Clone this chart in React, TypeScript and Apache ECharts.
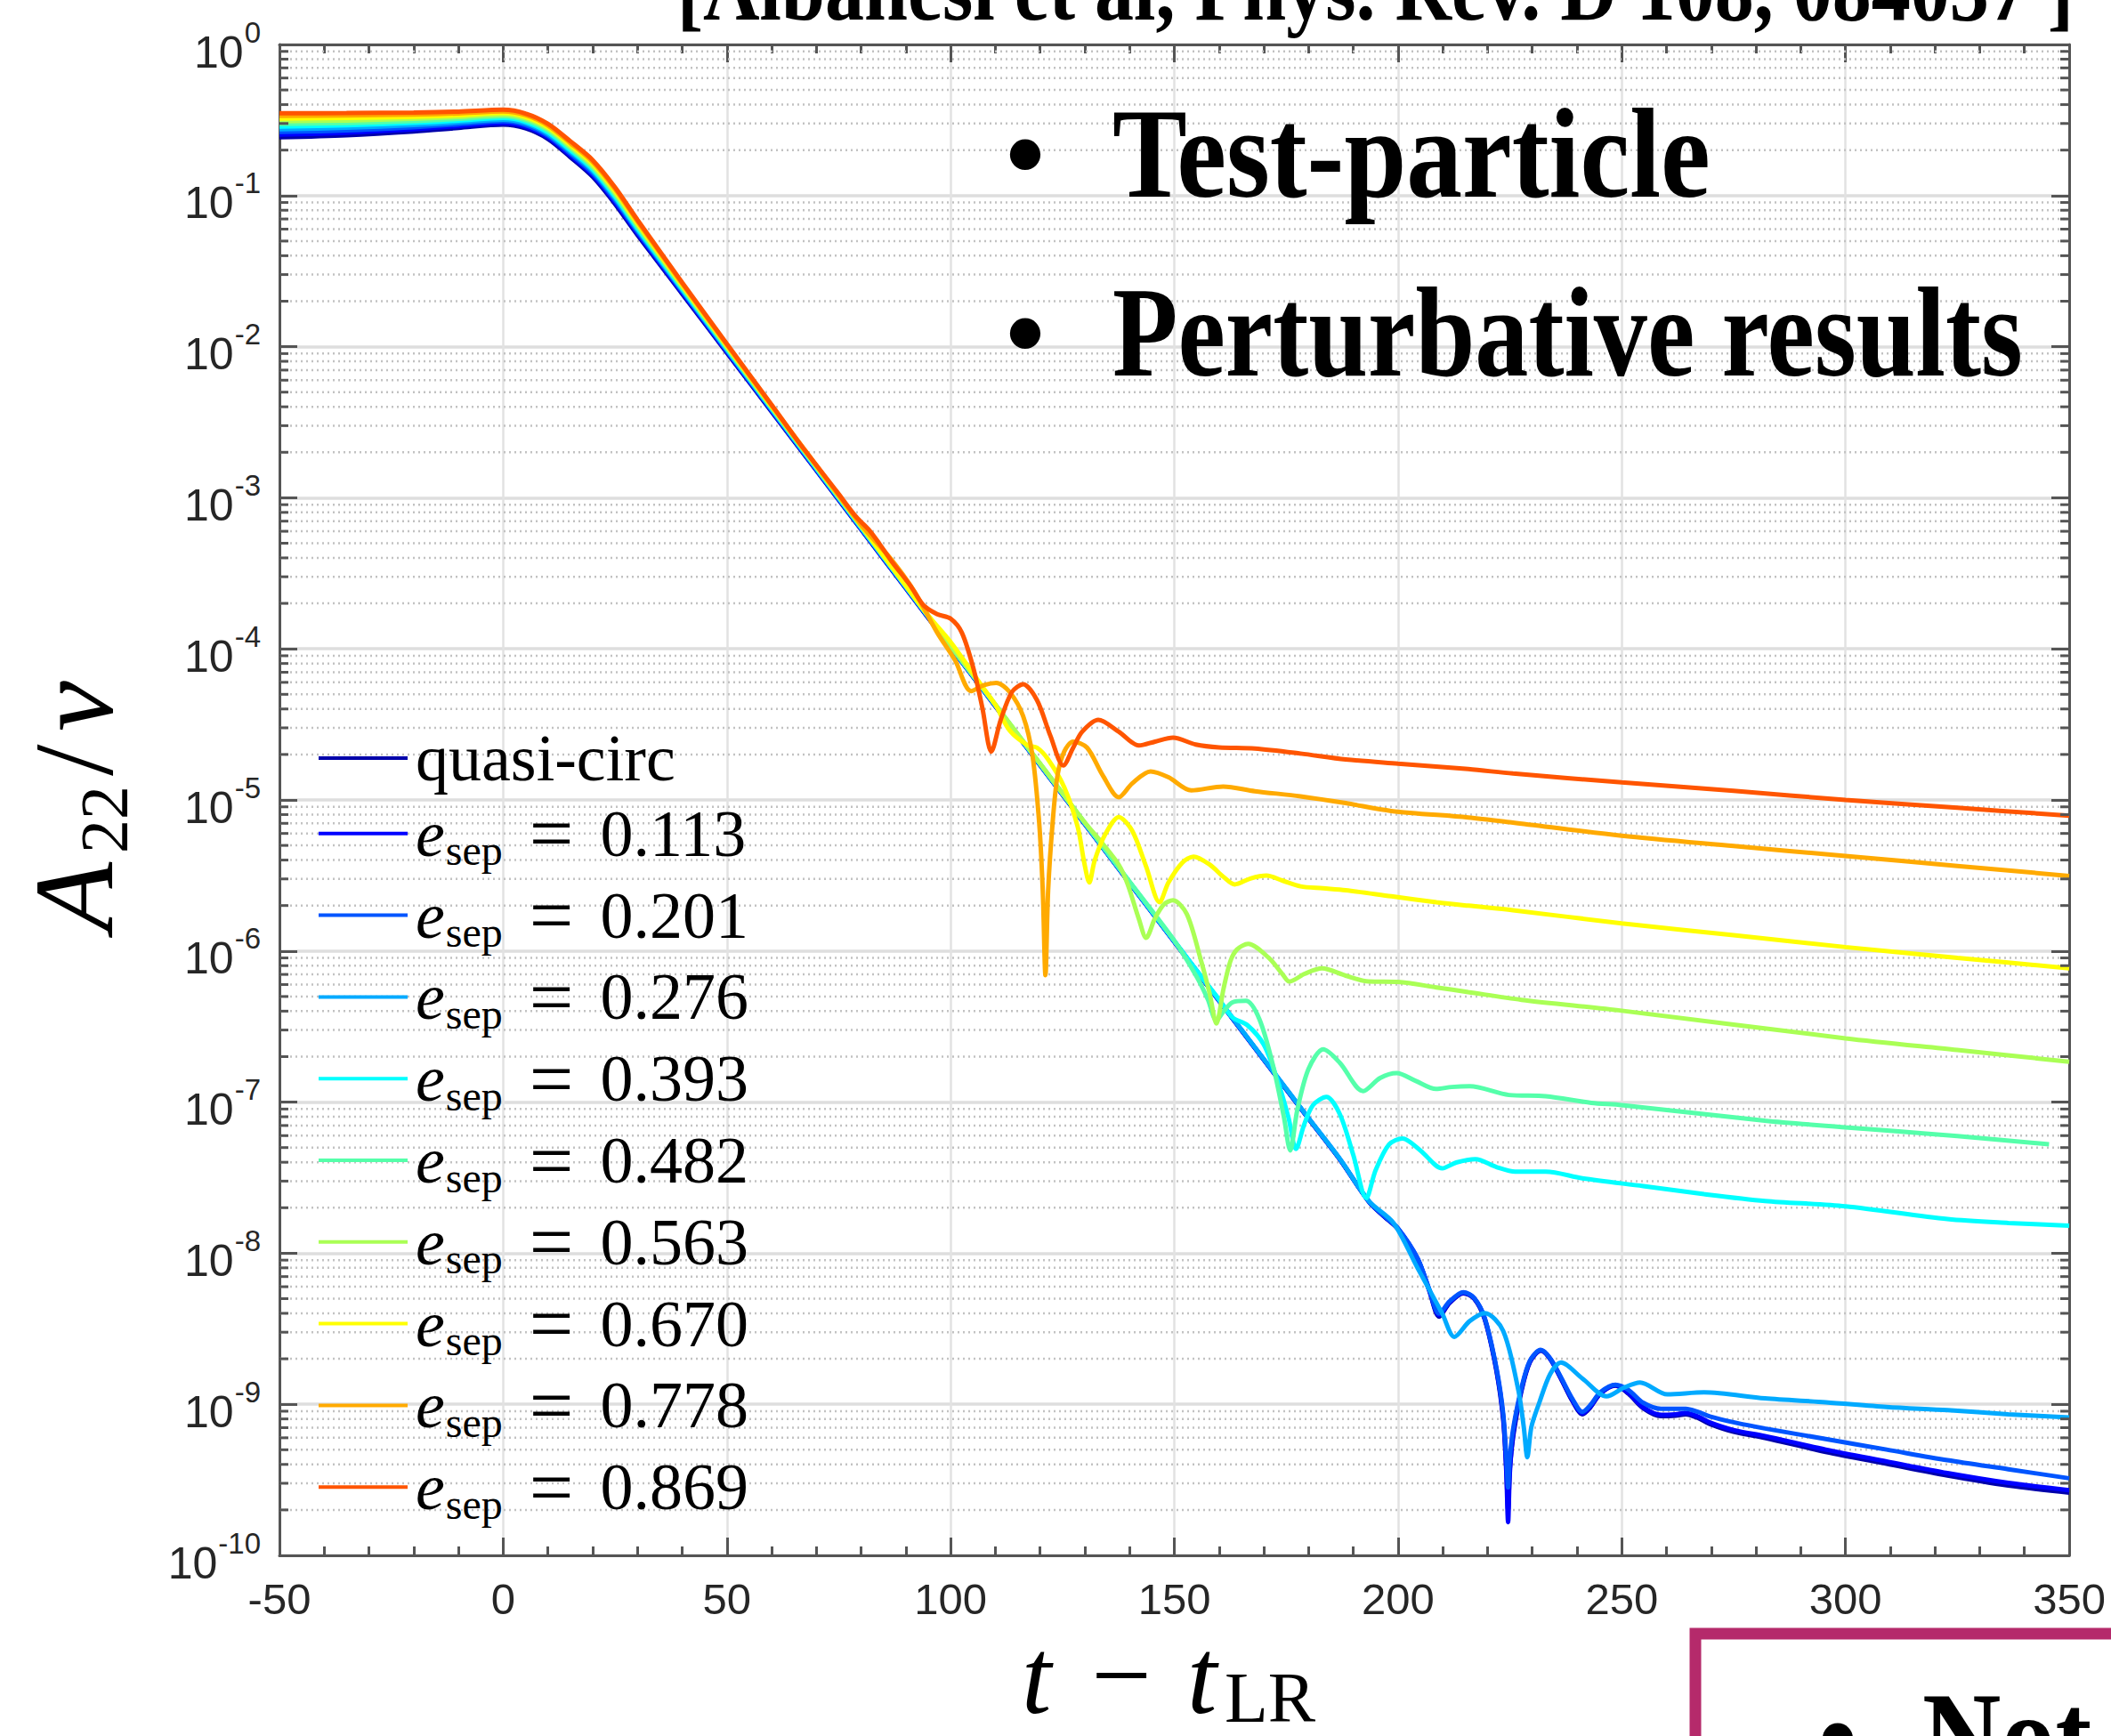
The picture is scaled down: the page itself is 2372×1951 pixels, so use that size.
import { useEffect, useRef } from "react";
import * as echarts from "echarts";

const W = 2372;
const H = 1951;
const SERIF = "'Liberation Serif', 'Times New Roman', serif";
const SANS = "'Liberation Sans', Arial, Helvetica, sans-serif";

// Runs: quasi-circular plus nine eccentricities at separatrix crossing
const eccentricities = ["0.113", "0.201", "0.276", "0.393", "0.482", "0.563", "0.670", "0.778", "0.869"];
// jet(10) palette, one colour per run
const runColors = ["#0000AA", "#0000FF", "#0055FF", "#00AAFF", "#00FFFF", "#55FFAA", "#AAFF55", "#FFFF00", "#FFAA00", "#FF5500"];

// axis ranges: t - t_LR and decades of A22/nu
const xMin = -50;
const xMax = 350;
const xStep = 50;
const yMinExp = -10;
const yMaxExp = 0;

// log10(A22/nu) against t - t_LR
const logQuasiCirc: number[][] = [
  [-50, -0.614], [-35, -0.6], [-20, -0.575], [-10, -0.552], [0, -0.53], [5, -0.555], [10, -0.625], [15, -0.745],
  [20, -0.875], [25, -1.055], [30, -1.26], [40, -1.65], [50, -2.04], [60, -2.43], [70, -2.82], [80, -3.21],
  [90, -3.6], [100, -3.99], [110, -4.38], [120, -4.77], [130, -5.16], [140, -5.55], [150, -5.94], [160, -6.33],
  [170, -6.72], [180, -7.11], [187, -7.38], [193.5, -7.66], [197, -7.76], [200, -7.84], [204.4, -8.04], [207, -8.25],
  [209.2, -8.42], [211.5, -8.33], [214.6, -8.265], [217, -8.3], [219.4, -8.44], [222, -8.78], [223.5, -9.1],
  [224.2, -9.42], [224.6, -9.7], [225, -9.42], [225.8, -9.2], [227.6, -8.91], [229.5, -8.72], [231.9, -8.646],
  [234, -8.7], [236.4, -8.83], [239, -8.98], [241.2, -9.066], [243, -9.02], [245.2, -8.93], [248.6, -8.877],
  [251.5, -8.93], [254.8, -9.026], [258.8, -9.079], [262, -9.075], [264.3, -9.066], [267, -9.09], [269.7, -9.131],
  [275.2, -9.184], [282, -9.223], [295.6, -9.315], [309.2, -9.394], [322.8, -9.472], [336.4, -9.538], [350, -9.585],
];

const logE113: number[][] = [
  [-50, -0.596], [-35, -0.584], [-20, -0.561], [-10, -0.54], [0, -0.519], [5, -0.544], [10, -0.614], [15, -0.733],
  [20, -0.863], [25, -1.043], [30, -1.249], [40, -1.642], [50, -2.034], [60, -2.425], [70, -2.816], [80, -3.207],
  [90, -3.597], [100, -3.988], [110, -4.378], [120, -4.769], [130, -5.159], [140, -5.549], [150, -5.939], [160, -6.329],
  [170, -6.719], [180, -7.109], [187, -7.379], [193.5, -7.659], [197, -7.758], [200, -7.838], [204.4, -8.038],
  [207, -8.245], [209.2, -8.41], [211.5, -8.325], [214.6, -8.262], [217, -8.298], [219.4, -8.435], [222, -8.77],
  [223.5, -9.08], [224.2, -9.45], [224.6, -9.78], [225, -9.45], [225.8, -9.18], [227.6, -8.9], [229.5, -8.715],
  [231.9, -8.643], [234, -8.698], [236.4, -8.826], [239, -8.975], [241.2, -9.06], [243, -9.015], [245.2, -8.928],
  [248.6, -8.874], [251.5, -8.925], [254.8, -9.02], [258.8, -9.07], [262, -9.066], [264.3, -9.058], [267, -9.08],
  [269.7, -9.12], [275.2, -9.172], [282, -9.21], [295.6, -9.3], [309.2, -9.378], [322.8, -9.455], [336.4, -9.52],
  [350, -9.568],
];

const logE201: number[][] = [
  [-50, -0.579], [-35, -0.568], [-20, -0.547], [-10, -0.528], [0, -0.508], [5, -0.533], [10, -0.603], [15, -0.722],
  [20, -0.851], [25, -1.031], [30, -1.238], [40, -1.633], [50, -2.027], [60, -2.42], [70, -2.812], [80, -3.203],
  [90, -3.594], [100, -3.986], [110, -4.376], [120, -4.767], [130, -5.157], [140, -5.547], [150, -5.937], [160, -6.327],
  [170, -6.717], [180, -7.107], [187, -7.377], [193.5, -7.657], [197, -7.756], [200, -7.836], [204.4, -8.035],
  [207, -8.24], [209.2, -8.4], [211.5, -8.32], [214.6, -8.258], [217, -8.295], [219.4, -8.43], [222, -8.76],
  [223.5, -9.06], [224.2, -9.35], [224.6, -9.55], [225, -9.35], [225.8, -9.15], [227.6, -8.89], [229.5, -8.71],
  [231.9, -8.64], [234, -8.695], [236.4, -8.82], [239, -8.965], [241.2, -9.05], [243, -9.005], [245.2, -8.92],
  [248.6, -8.87], [251.5, -8.905], [254.8, -8.99], [258.8, -9.03], [262, -9.03], [264.3, -9.03], [267, -9.05],
  [269.7, -9.08], [275.2, -9.12], [282, -9.16], [295.6, -9.23], [309.2, -9.3], [322.8, -9.37], [336.4, -9.43],
  [350, -9.49],
];

const logE276: number[][] = [
  [-50, -0.561], [-35, -0.551], [-20, -0.533], [-10, -0.516], [0, -0.497], [5, -0.522], [10, -0.592], [15, -0.71],
  [20, -0.838], [25, -1.018], [30, -1.227], [40, -1.625], [50, -2.021], [60, -2.415], [70, -2.808], [80, -3.2],
  [90, -3.591], [100, -3.984], [110, -4.374], [120, -4.765], [130, -5.155], [140, -5.545], [150, -5.935], [160, -6.325],
  [170, -6.715], [180, -7.105], [187, -7.375], [193.5, -7.655], [199, -7.8], [204.4, -8.1], [209.9, -8.4],
  [212.6, -8.554], [216, -8.45], [219.4, -8.396], [223.5, -8.514], [226.9, -8.908], [228.1, -9.15], [228.9, -9.35],
  [229.8, -9.15], [231.6, -8.987], [234, -8.8], [236.4, -8.724], [241.2, -8.829], [246.6, -8.948], [250.5, -8.89],
  [254.1, -8.856], [260.2, -8.934], [268.4, -8.921], [282, -8.961], [295.6, -8.987], [309.2, -9.018], [322.8, -9.039],
  [336.4, -9.066], [350, -9.087],
];

const logE393: number[][] = [
  [-50, -0.543], [-35, -0.535], [-20, -0.519], [-10, -0.504], [0, -0.486], [5, -0.511], [10, -0.581], [15, -0.698],
  [20, -0.826], [25, -1.006], [30, -1.216], [40, -1.617], [50, -2.014], [60, -2.41], [70, -2.804], [80, -3.196],
  [90, -3.588], [100, -3.982], [110, -4.372], [120, -4.763], [130, -5.153], [140, -5.543], [150, -5.933], [155, -6.13],
  [160, -6.32], [163, -6.44], [166.3, -6.49], [170, -6.62], [173, -6.85], [175.5, -7.1], [177.2, -7.31], [179, -7.15],
  [181, -7.02], [184, -6.966], [187, -7.08], [190, -7.35], [192.9, -7.635], [195, -7.45], [198, -7.28], [201, -7.241],
  [205, -7.32], [209.9, -7.438], [213, -7.4], [217.3, -7.378], [222, -7.43], [226.2, -7.46], [233, -7.46],
  [241.2, -7.504], [254.8, -7.556], [268.4, -7.609], [282, -7.654], [300, -7.69], [322.8, -7.774], [336.4, -7.8],
  [350, -7.818],
];

const logE482: number[][] = [
  [-50, -0.526], [-35, -0.519], [-20, -0.506], [-10, -0.492], [0, -0.476], [5, -0.501], [10, -0.569], [15, -0.687],
  [20, -0.814], [25, -0.994], [30, -1.204], [40, -1.608], [50, -2.008], [60, -2.405], [70, -2.8], [80, -3.192],
  [90, -3.585], [100, -3.98], [110, -4.37], [120, -4.761], [130, -5.151], [140, -5.541], [150, -5.931], [155, -6.17],
  [157.5, -6.32], [159.4, -6.46], [161, -6.4], [163, -6.34], [166, -6.33], [169, -6.45], [172, -6.75], [174.5, -7.1],
  [175.9, -7.32], [177.5, -7.05], [180, -6.78], [183.3, -6.651], [187, -6.74], [192.2, -6.927], [196, -6.84],
  [199.7, -6.808], [204, -6.86], [208.5, -6.913], [212, -6.9], [216, -6.895], [224.8, -6.953], [233, -6.961],
  [243.2, -7.005], [250, -7.02], [282, -7.123], [300, -7.167], [325, -7.225], [345.5, -7.279],
];

const logE563: number[][] = [
  [-50, -0.508], [-35, -0.503], [-20, -0.492], [-10, -0.48], [0, -0.465], [5, -0.49], [10, -0.558], [15, -0.675],
  [20, -0.802], [25, -0.982], [30, -1.193], [40, -1.6], [50, -2.001], [60, -2.4], [70, -2.795], [80, -3.188],
  [90, -3.582], [100, -3.977], [110, -4.368], [120, -4.759], [130, -5.149], [134, -5.29], [137.6, -5.43],
  [139.6, -5.56], [142.1, -5.79], [143.7, -5.913], [145.7, -5.782], [147.7, -5.69], [149.7, -5.664], [152.8, -5.756],
  [155.8, -6.045], [157.9, -6.281], [159.4, -6.48], [161, -6.25], [162.5, -6.07], [164, -5.99], [166.5, -5.953],
  [171.1, -6.045], [174.1, -6.15], [175.7, -6.202], [179.2, -6.15], [183, -6.115], [188.3, -6.163], [193.4, -6.202],
  [200, -6.205], [208.6, -6.241], [215.7, -6.272], [227.6, -6.323], [250, -6.395], [300, -6.578], [325, -6.655],
  [350, -6.733],
];

const logE670: number[][] = [
  [-50, -0.49], [-35, -0.486], [-20, -0.478], [-10, -0.468], [0, -0.454], [5, -0.479], [10, -0.547], [15, -0.663],
  [20, -0.789], [25, -0.969], [30, -1.182], [40, -1.592], [50, -1.995], [60, -2.395], [70, -2.79], [80, -3.184],
  [90.9, -3.617], [95, -3.78], [100, -3.955], [107.1, -4.25], [110, -4.37], [113.2, -4.54], [117.3, -4.64],
  [119.3, -4.654], [121.8, -4.732], [125.4, -4.916], [128.4, -5.178], [129.9, -5.42], [131, -5.546], [132.2, -5.4],
  [134.5, -5.231], [137.6, -5.113], [140.6, -5.205], [143.7, -5.441], [146.7, -5.677], [148.7, -5.546],
  [151.8, -5.415], [154.3, -5.375], [157.9, -5.428], [160.9, -5.507], [163.5, -5.559], [167, -5.52], [170.6, -5.501],
  [174.1, -5.533], [178.2, -5.572], [183.2, -5.585], [188.3, -5.598], [198.5, -5.638], [208.6, -5.677], [215.7, -5.7],
  [225.7, -5.73], [250, -5.817], [275, -5.895], [300, -5.974], [325, -6.045], [350, -6.114],
];

const logE778: number[][] = [
  [-50, -0.473], [-35, -0.47], [-20, -0.464], [-10, -0.456], [0, -0.443], [5, -0.468], [10, -0.536], [15, -0.652],
  [20, -0.777], [25, -0.957], [30, -1.171], [40, -1.583], [50, -1.988], [60, -2.39], [70, -2.785], [80, -3.18],
  [86.8, -3.41], [91.9, -3.62], [97, -3.892], [101, -4.076], [104.6, -4.28], [107.5, -4.24], [110.2, -4.225],
  [113.2, -4.286], [116.2, -4.444], [118.3, -4.706], [119.8, -5.152], [120.6, -5.6], [121.2, -6.16], [121.8, -5.6],
  [122.8, -5.152], [123.9, -4.837], [125.4, -4.68], [127.4, -4.614], [130.5, -4.654], [134, -4.837], [137.6, -4.982],
  [140.6, -4.89], [144.7, -4.811], [148.7, -4.85], [153.8, -4.937], [160.9, -4.911], [168, -4.942], [178.2, -4.976],
  [188.3, -5.021], [198.5, -5.073], [215.7, -5.116], [225.7, -5.15], [250, -5.237], [275, -5.305], [300, -5.371],
  [325, -5.437], [350, -5.503],
];

const logE869: number[][] = [
  [-50, -0.455], [-35, -0.454], [-20, -0.45], [-10, -0.444], [0, -0.432], [5, -0.457], [10, -0.525], [15, -0.64],
  [20, -0.765], [25, -0.945], [30, -1.16], [40, -1.575], [50, -1.982], [60, -2.385], [66.5, -2.65], [74.6, -2.96],
  [79, -3.13], [81.7, -3.21], [84, -3.3], [86.8, -3.42], [90.9, -3.577], [93.9, -3.71], [97, -3.77], [100, -3.8],
  [102.5, -3.892], [105.1, -4.129], [107.1, -4.391], [109.1, -4.68], [111.2, -4.47], [113.7, -4.286], [116.2, -4.234],
  [119.3, -4.339], [122.3, -4.575], [125.2, -4.772], [127.4, -4.654], [129.4, -4.549], [133, -4.47], [137.6, -4.549],
  [142.1, -4.64], [145.7, -4.614], [149.7, -4.588], [154.8, -4.633], [160, -4.652], [168, -4.66], [178.2, -4.693],
  [188.3, -4.732], [200, -4.76], [215.7, -4.796], [225.7, -4.825], [250, -4.884], [275, -4.94], [300, -5.0],
  [325, -5.052], [350, -5.104],
];

const runLogs = [logQuasiCirc, logE113, logE201, logE276, logE393, logE482, logE563, logE670, logE778, logE869];
const runNames = ["quasi-circ", ...eccentricities.map((e) => `e_sep = ${e}`)];

// plot frame: 314..2325 horizontally, 50..1748 vertically
const GRID = { left: 314, top: 50, right: W - 2325, bottom: H - 1748 };

// minor decade positions 2..9 x 10^k for the dotted grid and the short side ticks
const minorValues: number[] = [];
for (let k = yMinExp; k < yMaxExp; k++) {
  for (let m = 2; m <= 9; m++) minorValues.push(m * Math.pow(10, k));
}

const AXIS_GREY = "#555555";
const LABEL_GREY = "#262626";

function txt(x: number, y: number, text: string, size: number, opts: any = {}) {
  const { align = "left", italic = false, bold = false, scaleX = 1 } = opts;
  return {
    type: "text",
    x,
    y,
    scaleX,
    z: 10,
    style: {
      text,
      fontFamily: SERIF,
      fontSize: size,
      fontStyle: italic ? "italic" : "normal",
      fontWeight: bold ? "bold" : "normal",
      fill: "#000",
      align,
      textAlign: align,
      verticalAlign: "middle",
      textVerticalAlign: "middle",
    },
  };
}

function buildOption() {
  const lineSeries = runLogs.map((pts, i) => ({
    type: "line",
    name: runNames[i],
    data: pts.map(([t, l]) => [t, Math.pow(10, l)]),
    symbol: "none",
    showSymbol: false,
    smooth: 0.3,
    clip: true,
    color: runColors[i],
    lineStyle: { color: runColors[i], width: 5 },
    emphasis: { disabled: true },
    z: 3,
  }));

  // dotted minor grid lines across the frame
  const minorGridSeries = {
    type: "custom",
    name: "__minorGrid",
    coordinateSystem: "cartesian2d",
    silent: true,
    clip: false,
    z: 1,
    data: minorValues.map((v) => [xMin, v]),
    renderItem: (_params: any, api: any) => {
      const v = api.value(1);
      const a = api.coord([xMin, v]);
      const b = api.coord([xMax, v]);
      return {
        type: "line",
        shape: { x1: a[0], y1: a[1], x2: b[0], y2: b[1] },
        style: { stroke: "#c2c2c2", lineWidth: 2.5, lineDash: [2, 4] },
      };
    },
  };

  // short inward minor ticks on the left and right frame edges
  const minorTickSeries = {
    type: "custom",
    name: "__minorTicks",
    coordinateSystem: "cartesian2d",
    silent: true,
    clip: false,
    z: 4,
    data: minorValues.map((v) => [xMin, v]),
    renderItem: (_params: any, api: any) => {
      const v = api.value(1);
      const a = api.coord([xMin, v]);
      const b = api.coord([xMax, v]);
      return {
        type: "group",
        children: [
          { type: "line", shape: { x1: a[0], y1: a[1], x2: a[0] + 10, y2: a[1] }, style: { stroke: AXIS_GREY, lineWidth: 3 } },
          { type: "line", shape: { x1: b[0] - 10, y1: b[1], x2: b[0], y2: b[1] }, style: { stroke: AXIS_GREY, lineWidth: 3 } },
        ],
      };
    },
  };

  const rich = {
    q: { fontFamily: SERIF, fontSize: 74, lineHeight: 84, color: "#000", padding: [0, 0, 0, 4] },
    e: { fontFamily: SERIF, fontStyle: "italic", fontSize: 74, lineHeight: 84, color: "#000", padding: [0, 0, 0, 4] },
    s: { fontFamily: SERIF, fontSize: 48, lineHeight: 48, color: "#000", padding: [38, 0, 0, 1] },
    eq: { fontFamily: SERIF, fontSize: 88, lineHeight: 84, color: "#000", padding: [0, 30, 0, 30] },
    v: { fontFamily: SERIF, fontSize: 74, lineHeight: 84, color: "#000" },
  };

  const yLabelRich = {
    b: { fontFamily: SANS, fontSize: 50, lineHeight: 50, color: LABEL_GREY, padding: [17, 0, 0, 0] },
    p: { fontFamily: SANS, fontSize: 33, lineHeight: 33, color: LABEL_GREY, padding: [0, 0, 28, 1] },
  };

  const yFormatter = (v: number) => `{b|10}{p|${Math.round(Math.log10(v))}}`;

  const commonX = { type: "value", min: xMin, max: xMax, interval: xStep };
  const commonY = {
    type: "log",
    logBase: 10,
    min: Math.pow(10, yMinExp),
    max: Math.pow(10, yMaxExp),
    splitNumber: 10,
    interval: 1,
  };
  const frameLine = { show: true, onZero: false, lineStyle: { color: AXIS_GREY, width: 3 } };
  const majorTick = { show: true, inside: true, length: 20, lineStyle: { color: AXIS_GREY, width: 3 } };
  const minorTick = { show: true, splitNumber: 5, length: 10, lineStyle: { color: AXIS_GREY, width: 3 } };

  return {
    animation: false,
    backgroundColor: "#ffffff",
    textStyle: { fontFamily: SANS },
    grid: { ...GRID, containLabel: false },
    legend: {
      show: true,
      orient: "vertical",
      left: 353,
      top: 810,
      icon: "rect",
      itemWidth: 100,
      itemHeight: 4,
      itemGap: 3.8,
      selectedMode: false,
      data: runNames,
      textStyle: { fontFamily: SERIF, fontSize: 74, color: "#000", rich },
      formatter: (name: string) => {
        if (name === "quasi-circ") return "{q|quasi-circ}";
        const val = name.split("= ")[1];
        return `{e|e}{s|sep}{eq|=}{v|${val}}`;
      },
    },
    xAxis: [
      {
        ...commonX,
        position: "bottom",
        axisLine: frameLine,
        axisTick: majorTick,
        minorTick,
        axisLabel: { show: true, fontFamily: SANS, fontSize: 49, color: LABEL_GREY, margin: 24 },
        splitLine: { show: true, lineStyle: { color: "#e2e2e2", width: 2.5 } },
        minorSplitLine: { show: false },
      },
      {
        ...commonX,
        position: "top",
        axisLine: frameLine,
        axisTick: majorTick,
        minorTick,
        axisLabel: { show: false },
        splitLine: { show: false },
      },
    ],
    yAxis: [
      {
        ...commonY,
        position: "left",
        axisLine: frameLine,
        axisTick: majorTick,
        axisLabel: { show: true, margin: 21, formatter: yFormatter, rich: yLabelRich, align: "right" },
        splitLine: { show: true, lineStyle: { color: "#dedede", width: 3.5 } },
      },
      {
        ...commonY,
        position: "right",
        axisLine: frameLine,
        axisTick: majorTick,
        axisLabel: { show: false },
        splitLine: { show: false },
      },
    ],
    series: [minorGridSeries, ...lineSeries, minorTickSeries],
    graphic: [
      // citation, cut by the top edge
      txt(2330, -12, "[Albanesi et al, Phys. Rev. D 108, 084037 ]", 100, { align: "right", bold: true, scaleX: 0.88 }),
      // bullet points over the plot
      txt(1152, 173, "•", 144, { align: "center" }),
      txt(1250, 173, "Test-particle", 144, { bold: true, scaleX: 0.872 }),
      txt(1152, 374, "•", 144, { align: "center" }),
      txt(1250, 374, "Perturbative results", 144, { bold: true, scaleX: 0.835 }),
      // x-axis title: t − t_LR
      txt(1148, 1884, "t", 120, { italic: true }),
      txt(1260, 1882, "−", 120, { align: "center" }),
      txt(1334, 1884, "t", 120, { italic: true }),
      txt(1376, 1908, "LR", 80),
      // y-axis title: A_22 / ν, reading upwards
      {
        type: "group",
        x: 126,
        y: 1047,
        rotation: Math.PI / 2,
        z: 10,
        children: [
          txt(0, -43, "A", 128, { italic: true }),
          txt(88, -9, "22", 76),
          txt(175, -43, "/", 128),
          txt(225, -43, "ν", 128, { italic: true }),
        ],
      },
      // framed note in the lower right corner, cut by the page edge
      {
        type: "rect",
        z: 10,
        shape: { x: 1905, y: 1836, width: 700, height: 400 },
        style: { fill: "rgba(0,0,0,0)", stroke: "#b52a6b", lineWidth: 13 },
      },
      txt(2065, 1953, "•", 144, { align: "center" }),
      txt(2160, 1953, "Not", 144, { bold: true, scaleX: 0.85 }),
    ],
  };
}

export default function App() {
  const ref = useRef<HTMLDivElement>(null);
  useEffect(() => {
    if (!ref.current) return;
    const chart = echarts.init(ref.current, null, { renderer: "svg", width: W, height: H });
    chart.setOption(buildOption() as any);
    return () => chart.dispose();
  }, []);
  return (
    <div
      ref={ref}
      style={{ position: "absolute", left: 0, top: 0, width: W, height: H, background: "#ffffff", overflow: "hidden" }}
    />
  );
}
